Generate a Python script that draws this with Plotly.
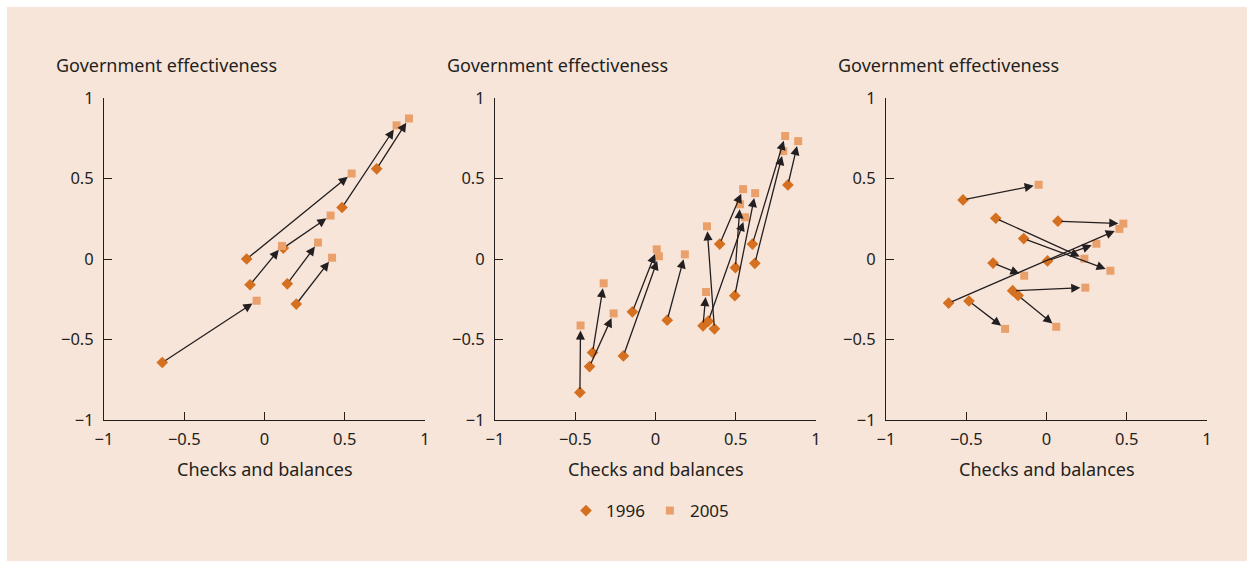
import plotly.graph_objects as go

# ---- data -------------------------------------------------------------
p1_x1996 = [-0.637, -0.111, -0.090, 0.117, 0.142, 0.198, 0.483, 0.699]
p1_y1996 = [-0.643, 0.000, -0.160, 0.068, -0.154, -0.280, 0.320, 0.560]
p1_x2005 = [-0.049, 0.543, 0.109, 0.412, 0.333, 0.421, 0.823, 0.900]
p1_y2005 = [-0.259, 0.531, 0.081, 0.270, 0.102, 0.008, 0.830, 0.873]

p2_x1996 = [-0.471, -0.392, -0.411, -0.144, -0.200, 0.073, 0.296, 0.367, 0.329,
            0.400, 0.498, 0.494, 0.604, 0.619, 0.825]
p2_y1996 = [-0.829, -0.581, -0.668, -0.328, -0.602, -0.380, -0.415, -0.434, -0.386,
            0.093, -0.054, -0.228, 0.093, -0.027, 0.460]
p2_x2005 = [-0.467, -0.323, -0.261, 0.008, 0.021, 0.183, 0.315, 0.321, 0.558,
            0.546, 0.527, 0.621, 0.808, 0.796, 0.889]
p2_y2005 = [-0.413, -0.151, -0.338, 0.060, 0.017, 0.029, -0.205, 0.203, 0.259,
            0.434, 0.340, 0.409, 0.764, 0.670, 0.732]

p3_x1996 = [-0.520, -0.316, 0.071, -0.142, -0.333, -0.610, 0.006, -0.483, -0.211, -0.177]
p3_y1996 = [0.367, 0.253, 0.235, 0.127, -0.025, -0.274, -0.012, -0.261, -0.197, -0.226]
p3_x2005 = [-0.049, 0.236, 0.479, 0.398, -0.139, 0.454, 0.311, -0.258, 0.242, 0.061]
p3_y2005 = [0.461, 0.002, 0.220, -0.073, -0.104, 0.187, 0.095, -0.434, -0.178, -0.421]

panels = [
    (p1_x1996, p1_y1996, p1_x2005, p1_y2005),
    (p2_x1996, p2_y1996, p2_x2005, p2_y2005),
    (p3_x1996, p3_y1996, p3_x2005, p3_y2005),
]

tick_vals = [-1, -0.5, 0, 0.5, 1]
tick_text = ["\u22121", "\u22120.5", "0", "0.5", "1"]
x_title = "Checks and balances"
y_title = "Government effectiveness"
series_names = ["1996", "2005"]

# ---- style ------------------------------------------------------------
W, H = 1247, 561
BG = "#F8E5D9"
C1996 = "#D4701F"
C2005 = "#E9A06B"
INK = "#231F20"
FONT = "Noto Sans"

x_left_px = [104, 495, 886]
plot_w = 321
y_top_px, y_bot_px = 98, 420

fig = go.Figure()
annotations = []

for i, (xa, ya, xb, yb) in enumerate(panels):
    n = i + 1
    xr = "x" if n == 1 else f"x{n}"
    yr = "y" if n == 1 else f"y{n}"
    for x0, y0, x1, y1 in zip(xa, ya, xb, yb):
        annotations.append(dict(
            x=x1, y=y1, ax=x0, ay=y0, xref=xr, yref=yr, axref=xr, ayref=yr,
            showarrow=True, arrowhead=2, arrowsize=1.4, arrowwidth=1.3,
            arrowcolor=INK, standoff=5, startstandoff=2, text=""))
    fig.add_trace(go.Scatter(
        x=xa, y=ya, mode="markers", name=series_names[0], xaxis=xr, yaxis=yr,
        marker=dict(symbol="diamond", size=9, color=C1996),
        showlegend=(n == 1), legendgroup="a", cliponaxis=False))
    fig.add_trace(go.Scatter(
        x=xb, y=yb, mode="markers", name=series_names[1], xaxis=xr, yaxis=yr,
        marker=dict(symbol="square", size=8, color=C2005),
        showlegend=(n == 1), legendgroup="b", cliponaxis=False))

    x0p = x_left_px[i]
    dom_x = [x0p / W, (x0p + plot_w) / W]
    dom_y = [(H - y_bot_px) / H, (H - y_top_px) / H]
    axis_common = dict(
        range=[-1, 1], tickvals=tick_vals, ticktext=tick_text,
        showline=True, linecolor=INK, linewidth=1,
        ticks="inside", ticklen=8, tickcolor=INK, tickwidth=1,
        showgrid=False, zeroline=False, automargin=False,
        tickfont=dict(family=FONT, size=16.5, color=INK),
    )
    fig.update_layout(**{
        ("xaxis" if n == 1 else f"xaxis{n}"): dict(domain=dom_x, anchor=yr, ticklabelstandoff=4, **axis_common),
        ("yaxis" if n == 1 else f"yaxis{n}"): dict(domain=dom_y, anchor=xr, ticklabelstandoff=6, **axis_common),
    })
    annotations.append(dict(
        x=(x0p - 50) / W, y=(H - 65) / H, xref="paper", yref="paper",
        xanchor="left", yanchor="middle", showarrow=False, text=y_title,
        font=dict(family=FONT, size=18, color=INK)))
    annotations.append(dict(
        x=(x0p + plot_w / 2) / W, y=(H - 469) / H, xref="paper", yref="paper",
        xanchor="center", yanchor="middle", showarrow=False, text=x_title,
        font=dict(family=FONT, size=18, color=INK)))

fig.update_layout(
    width=W, height=H,
    margin=dict(l=0, r=0, t=0, b=0, pad=0, autoexpand=False),
    paper_bgcolor="white",
    plot_bgcolor="rgba(0,0,0,0)",
    annotations=annotations,
    shapes=[dict(type="rect", xref="paper", yref="paper", x0=7 / W, x1=1, y0=0, y1=(H - 7) / H,
                 fillcolor=BG, line=dict(width=0), layer="below")],
    showlegend=True,
    legend=dict(orientation="h", x=650 / W, y=(H - 511) / H, xanchor="center", yanchor="middle",
                bgcolor="rgba(0,0,0,0)", font=dict(family=FONT, size=17, color=INK),
                itemwidth=30, tracegroupgap=0),
    font=dict(family=FONT, color=INK),
)

fig.write_html(
    "out.html",
    config={"displayModeBar": False},
    post_script="document.body.style.margin='0';document.body.style.overflow='hidden';",
)
